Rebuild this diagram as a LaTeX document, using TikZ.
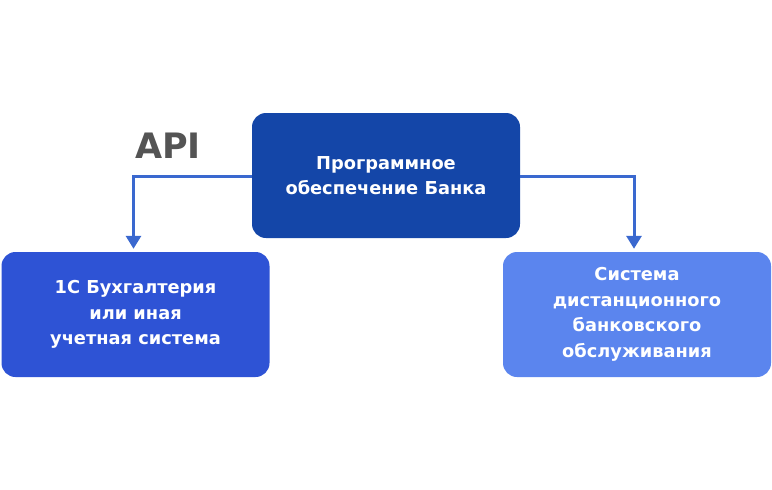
\documentclass[tikz,border=0pt]{standalone}
\usepackage{fontspec}
\setmainfont{DejaVu Sans}
\usetikzlibrary{arrows.meta}
\definecolor{topc}{HTML}{1446A8}
\definecolor{leftc}{HTML}{2E53D5}
\definecolor{rightc}{HTML}{5B85EE}
\definecolor{arrc}{HTML}{3A68CF}
\definecolor{apic}{HTML}{545454}
\tikzset{
  box/.style={rounded corners=14pt, minimum width=268pt, minimum height=125pt, inner sep=0pt, align=center, text=white, font=\bfseries\fontsize{17.8}{25.5}\selectfont},
  conn/.style={draw=arrc, line width=3pt, shorten >=3pt, -{Triangle[width=15pt,length=13pt]}}
}
\begin{document}
\begin{tikzpicture}[x=1pt,y=-1pt]
\useasboundingbox (0,0) rectangle (772,490);
\node[box, fill=topc] (bank) at (386,175.5) {Программное\\обеспечение Банка};
\node[box, fill=leftc] (acc) at (135.5,314.5) {1С Бухгалтерия\\или иная\\учетная система};
\node[box, fill=rightc] (dbo) at (637,314.5) {Система\\дистанционного\\банковского\\обслуживания};
\node[text=apic, font=\bfseries\fontsize{35}{35}\selectfont, anchor=center] (api) at (168,146) {API};
\coordinate (lc) at (133.5,176);
\coordinate (rc) at (634,176);
\draw[conn] (bank.west |- lc) -- (lc) -- (lc |- acc.north);
\draw[conn] (bank.east |- rc) -- (rc) -- (rc |- dbo.north);
\end{tikzpicture}
\end{document}
